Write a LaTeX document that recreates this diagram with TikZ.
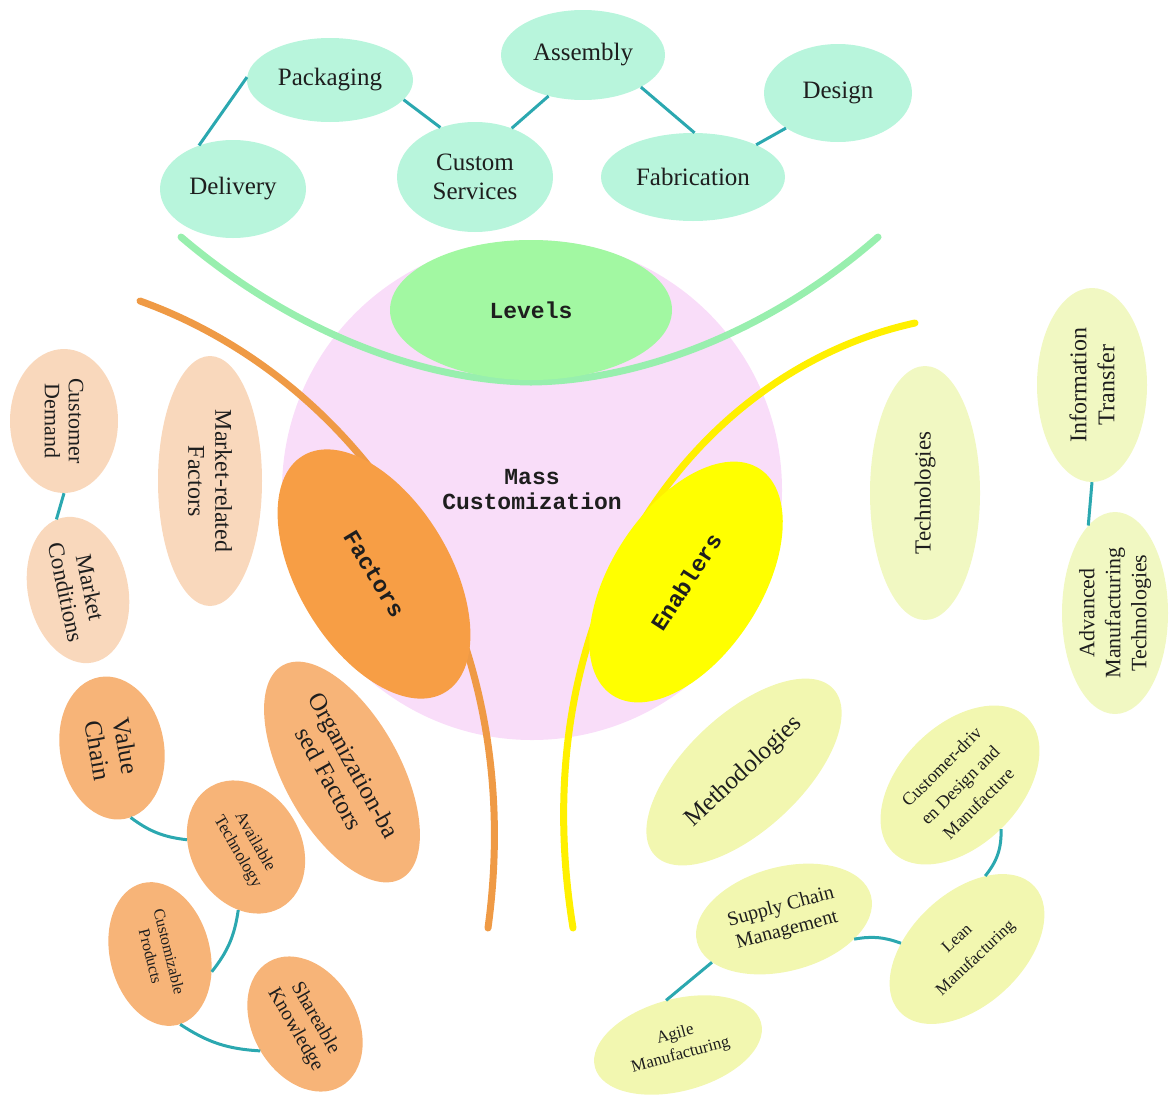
\documentclass[tikz,border=0pt]{standalone}
\usepackage{fontspec}
\setmainfont{Liberation Serif}
\setmonofont{Liberation Mono}
\usetikzlibrary{shapes.geometric}

\definecolor{mint}{HTML}{B8F5DC}
\definecolor{levelgreen}{HTML}{A2F8A2}
\definecolor{arcgreen}{HTML}{98EFAE}
\definecolor{pinkbg}{HTML}{F9DDF9}
\definecolor{factorange}{HTML}{F79E45}
\definecolor{arcorange}{HTML}{EF9A45}
\definecolor{peach}{HTML}{F9D8BC}
\definecolor{apricot}{HTML}{F7B478}
\definecolor{enabyellow}{HTML}{FFFF00}
\definecolor{arcyellow}{HTML}{FFF000}
\definecolor{paleyellow}{HTML}{F2F7B0}
\definecolor{lightyellow}{HTML}{F1F8C2}
\definecolor{linkteal}{HTML}{2BA8B0}
\definecolor{ink}{HTML}{1E1E1E}

\newcommand\setfs[2]{\fontsize{#1}{#2}\selectfont}

\tikzset{
  bubble/.style={ellipse, inner sep=0pt, align=center, text=ink},
  topbub/.style={bubble, fill=mint, font=\setfs{25}{29}},
  mainbub/.style={bubble, font=\ttfamily\bfseries\setfs{23}{25}},
  peachbub/.style={bubble, fill=peach},
  apribub/.style={bubble, fill=apricot},
  yelbub/.style={bubble, fill=paleyellow},
  ltyelbub/.style={bubble, fill=lightyellow},
  link/.style={draw=linkteal, line width=3pt},
  branch/.style={line width=7pt, line cap=round}
}

\begin{document}
\begin{tikzpicture}[x=1pt, y=-1pt]
\useasboundingbox (0,0) rectangle (1172,1095);

% central disc
\node[circle, fill=pinkbg, minimum size=500pt, inner sep=0pt, align=center,
      font=\ttfamily\bfseries\setfs{23}{25}, text=ink] (mc) at (532,490)
      {Mass\\Customization};

% the three branches
\coordinate (lvA) at (181,237);
\coordinate (lvB) at (878,237);
\coordinate (lvM) at (531,382);
\draw[branch, arcgreen] (lvA) .. controls (290,330) and (420,381) .. (lvM);
\draw[branch, arcgreen] (lvB) .. controls (772,330) and (642,381) .. (lvM);
\coordinate (facA) at (140,301);
\coordinate (facB) at (488,928);
\draw[branch, arcorange] (facA) .. controls (360,380) and (530,620) .. (facB);
\coordinate (enA) at (915,323);
\coordinate (enB) at (573,928);
\draw[branch, arcyellow] (enA) .. controls (700,370) and (520,600) .. (enB);

% main bubbles
\node[mainbub, fill=levelgreen, minimum width=282pt, minimum height=140pt] (levels) at (531,310) {Levels};
\node[mainbub, fill=factorange, rotate=-59, minimum width=276pt, minimum height=152pt] (factors) at (374,574) {Factors};
\node[mainbub, fill=enabyellow, rotate=57, minimum width=270pt, minimum height=150pt] (enablers) at (686,582) {Enablers};

% levels
\node[topbub, minimum width=166pt, minimum height=84pt] (pack) at (330,80) {Packaging};
\node[topbub, minimum width=146pt, minimum height=98pt] (deliv) at (233,189) {Delivery};
\node[topbub, minimum width=156pt, minimum height=110pt] (cust) at (475,177) {Custom\\Services};
\node[topbub, minimum width=164pt, minimum height=90pt] (assem) at (583,55) {Assembly};
\node[topbub, minimum width=148pt, minimum height=98pt] (design) at (838,93) {Design};
\node[topbub, minimum width=184pt, minimum height=88pt] (fabr) at (693,177) {Fabrication};

\draw[link] (deliv.128) -- (pack.178);
\draw[link] (pack.-15) -- (cust.125);
\draw[link] (cust.53) -- (assem.230);
\draw[link] (assem.-29) -- (fabr.88);
\draw[link] (fabr.27) -- (design.214);

% factors: market side
\node[peachbub, rotate=-90, minimum width=144pt, minimum height=108pt, font=\setfs{22}{24}] (cdem) at (64,421) {Customer\\Demand};
\node[peachbub, rotate=-78, minimum width=148pt, minimum height=100pt, font=\setfs{23}{25}] (mcond) at (78,590) {Market\\Conditions};
\node[peachbub, rotate=-90, minimum width=250pt, minimum height=104pt, font=\setfs{24}{27}] (mrf) at (210,481) {Market-related\\Factors};
\draw[link] (cdem.0) -- (mcond.185);

% factors: organization side
\node[apribub, rotate=-80, minimum width=144pt, minimum height=104pt, font=\setfs{25}{28}] (vchain) at (112,748) {Value\\Chain};
\node[apribub, rotate=-61, minimum width=244pt, minimum height=116pt, font=\setfs{25}{28}] (orgf) at (342,772) {Organization-ba\\sed Factors};
\node[apribub, rotate=-60, minimum width=140pt, minimum height=110pt, font=\setfs{17}{20}] (avtech) at (246,847) {Available\\Technology};
\node[apribub, rotate=-76, minimum width=146pt, minimum height=100pt, font=\setfs{16}{19}] (custp) at (160,954) {Customizable\\Products};
\node[apribub, rotate=-60, minimum width=144pt, minimum height=104pt, font=\setfs{20}{23}] (sharek) at (305,1024) {Shareable\\Knowledge};
\draw[link] (vchain.5) to[bend right=15] (avtech.233);
\draw[link] (avtech.-37) to[bend left=15] (custp.57);
\draw[link] (custp.2) to[bend right=15] (sharek.271);

% enablers: technologies
\node[ltyelbub, rotate=90, minimum width=254pt, minimum height=110pt, font=\setfs{23}{26}] (tech) at (925,493) {Technologies};
\node[ltyelbub, rotate=90, minimum width=194pt, minimum height=110pt, font=\setfs{24}{28}] (info) at (1092,385) {Information\\Transfer};
\node[ltyelbub, rotate=90, minimum width=202pt, minimum height=106pt, font=\setfs{22}{26}] (amt) at (1115,613) {Advanced\\Manufacturing\\Technologies};
\draw[link] (info.180) -- (amt.17);

% enablers: methodologies
\node[yelbub, rotate=43, minimum width=244pt, minimum height=116pt, font=\setfs{25}{28}] (meth) at (744,772) {Methodologies};
\node[yelbub, rotate=45, minimum width=190pt, minimum height=120pt, font=\setfs{18}{26}] (cdd) at (960,785) {Customer-driv\\en Design and\\Manufacture};
\node[yelbub, rotate=15, minimum width=180pt, minimum height=104pt, font=\setfs{20}{24}] (scm) at (784,919) {Supply Chain\\Management};
\node[yelbub, rotate=43, minimum width=184pt, minimum height=112pt, font=\setfs{17}{27}] (lean) at (967,949) {Lean\\Manufacturing};
\node[yelbub, rotate=15, minimum width=172pt, minimum height=92pt, font=\setfs{17}{21}] (agile) at (678,1045) {Agile\\Manufacturing};
\draw[link] (cdd.-92) to[bend left=20] (lean.33);
\draw[link] (lean.132) to[bend right=15] (scm.-31);
\draw[link] (scm.196) -- (agile.90);

\end{tikzpicture}
\end{document}
